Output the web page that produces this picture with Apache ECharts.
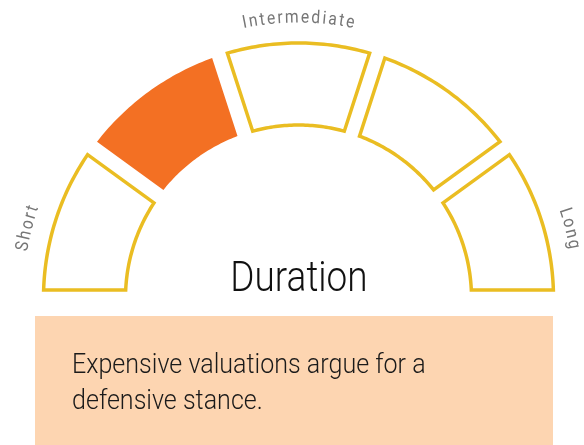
<!DOCTYPE html>
<html>
<head>
<meta charset="utf-8">
<script src="https://cdn.jsdelivr.net/npm/echarts@6/dist/echarts.min.js"></script>
<style>
  html, body { margin: 0; padding: 0; background: #fff; }
  #gauge { width: 584px; height: 445px; }
</style>
</head>
<body>
<div id="gauge"></div>
<script>
// scale segments, left to right
var segments = ['Short', 'Short-Intermediate', 'Intermediate', 'Intermediate-Long', 'Long'];
var currentSegment = 'Short-Intermediate';

// labels round the outside of the scale, placed on the angle axis
var scaleLabels = ['Short', 'Intermediate', 'Long'];
var scaleLabelValues = [0.4, 2.5, 4.6];

var title = 'Duration';
var noteLines = ['Expensive valuations argue for a', 'defensive stance.'];

var FONT = 'Roboto, "Liberation Sans", sans-serif';
var NARROW = 0.87; // squeeze text horizontally, the original face is condensed
var YELLOW = '#EABD22';
var ORANGE = '#F37023';
var R_OUT = 255;
var R_IN = 173;
var R_LABEL = 280;
var HALF_GAP = 8;

var chartDom = document.getElementById('gauge');
var myChart = echarts.init(chartDom);

var measureCtx = document.createElement('canvas').getContext('2d');

// radians per angle-axis unit (10 units round the full circle)
var UNIT = Math.PI * 2 / 10;

function segmentItem(params, api) {
  var a0 = api.value(0);
  var a1 = api.value(1);
  var active = segments[params.dataIndex] === currentSegment;
  var n = 40;
  var pts = [];
  // edges are kept parallel to the radius so the gaps have a constant width
  var dOut = Math.asin(HALF_GAP / R_OUT) / UNIT;
  var dIn = Math.asin(HALF_GAP / R_IN) / UNIT;
  var k;
  for (k = 0; k <= n; k++) {
    pts.push(api.coord([R_OUT, a0 + dOut + (a1 - a0 - 2 * dOut) * k / n]));
  }
  for (k = n; k >= 0; k--) {
    pts.push(api.coord([R_IN, a0 + dIn + (a1 - a0 - 2 * dIn) * k / n]));
  }
  return {
    type: 'polygon',
    shape: { points: pts },
    style: {
      fill: active ? ORANGE : '#fff',
      stroke: active ? null : YELLOW,
      lineWidth: active ? 0 : 3.5,
      lineJoin: 'miter'
    }
  };
}

function labelItem(params, api) {
  var text = scaleLabels[params.dataIndex];
  var at = api.value(1);
  var size = 18;
  var spacing = 2.2;
  var font = size + 'px ' + FONT;
  measureCtx.font = font;
  var widths = text.split('').map(function (c) { return measureCtx.measureText(c).width * NARROW; });
  var total = widths.reduce(function (s, w) { return s + w; }, 0) + spacing * (widths.length - 1);
  var c0 = api.coord([0, at]);
  var children = [];
  var s = -total / 2;
  for (var i = 0; i < widths.length; i++) {
    var mid = s + widths[i] / 2;
    var v = at + mid / R_LABEL / UNIT;
    var p = api.coord([R_LABEL, v]);
    var theta = Math.atan2(c0[1] - p[1], p[0] - c0[0]);
    children.push({
      type: 'text',
      x: p[0],
      y: p[1],
      scaleX: NARROW,
      rotation: theta - Math.PI / 2,
      style: {
        text: text[i],
        font: font,
        fill: '#767676',
        align: 'center',
        verticalAlign: 'middle'
      }
    });
    s += widths[i] + spacing;
  }
  return { type: 'group', children: children };
}

var option = {
  animation: false,
  polar: {
    center: [298.5, 298],
    radius: 300
  },
  radiusAxis: { type: 'value', min: 0, max: 300, show: false },
  angleAxis: {
    type: 'value',
    min: 0,
    max: 10,
    startAngle: 180,
    clockwise: true,
    show: false
  },
  graphic: [
    {
      type: 'rect',
      shape: { x: 35, y: 316, width: 518, height: 140 },
      style: { fill: '#FDD5B1' }
    },
    {
      type: 'text',
      x: 299,
      y: 280,
      scaleX: 0.88,
      style: {
        text: title,
        font: '300 42px ' + FONT,
        fill: '#111',
        align: 'center',
        verticalAlign: 'middle'
      }
    },
    {
      type: 'text',
      x: 72,
      y: 366,
      scaleX: 0.895,
      style: {
        text: noteLines[0],
        font: '300 28px ' + FONT,
        fill: '#1a1a1a',
        verticalAlign: 'middle'
      }
    },
    {
      type: 'text',
      x: 72,
      y: 402,
      scaleX: 0.895,
      style: {
        text: noteLines[1],
        font: '300 28px ' + FONT,
        fill: '#1a1a1a',
        verticalAlign: 'middle'
      }
    }
  ],
  series: [
    {
      type: 'custom',
      coordinateSystem: 'polar',
      renderItem: segmentItem,
      data: segments.map(function (name, i) { return { name: name, value: [i, i + 1] }; })
    },
    {
      type: 'custom',
      coordinateSystem: 'polar',
      renderItem: labelItem,
      data: scaleLabelValues.map(function (v) { return [R_LABEL, v]; })
    }
  ]
};
option && myChart.setOption(option);
</script>
</body>
</html>
